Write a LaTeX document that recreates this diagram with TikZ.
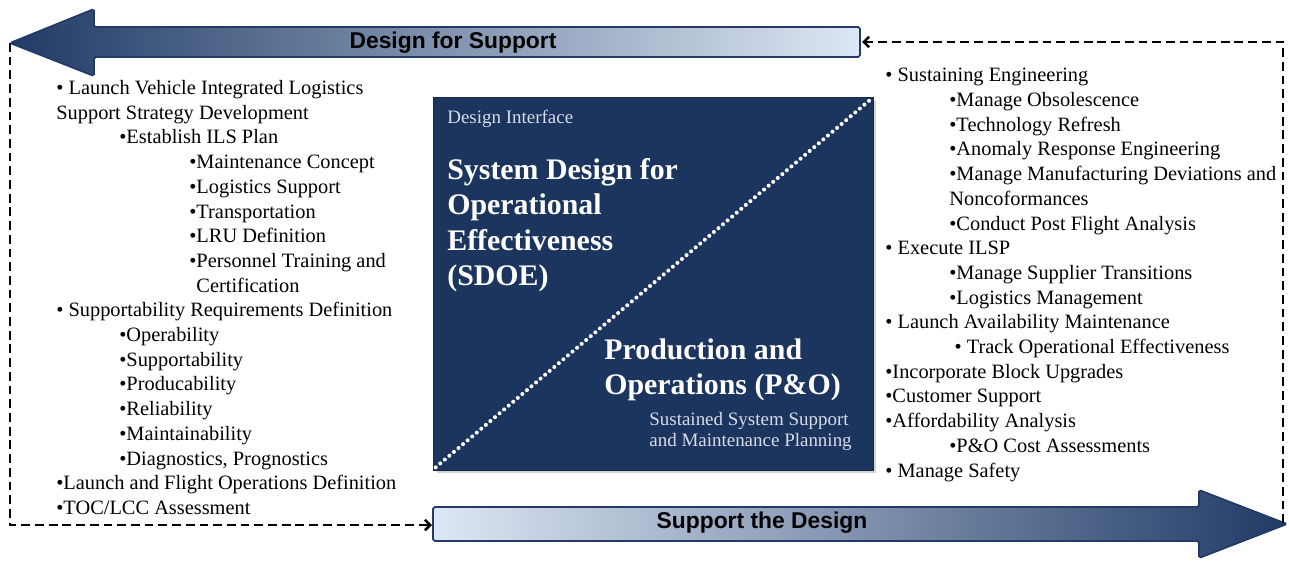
\documentclass[tikz,border=0pt]{standalone}
\usepackage{fontspec}
\setmainfont{Liberation Serif}
\setsansfont{Liberation Sans}
\usetikzlibrary{arrows.meta,shadows}

\definecolor{navy}{HTML}{1C355E}
\definecolor{arrowdark}{HTML}{213B66}
\definecolor{arrowmid}{HTML}{8FA5C7}
\definecolor{arrowlight}{HTML}{DDE7F5}
\definecolor{faint}{HTML}{D6DCE6}

\newcommand{\lvlone}{\hspace*{1.26cm}}
\newcommand{\lvltwo}{\hspace*{2.66cm}}
\newcommand{\lvlsub}{\hspace*{1.28cm}}

\begin{document}
\begin{tikzpicture}[
    x=0.02cm, y=-0.02cm,
    arrowline/.style={
        draw=arrowdark,
        line width=1pt,
        rounded corners=1pt,
    },
    arrowtext/.style={
        font=\sffamily\bfseries\fontsize{13}{15}\selectfont,
        text=black,
    },
    listnode/.style={
        anchor=north west,
        align=left,
        inner sep=0pt,
        font=\fontsize{11.6}{14.06}\selectfont,
    },
    sdbox/.style={
        rectangle,
        fill=navy,
        draw=navy!80!black,
        minimum width=8.8cm,
        minimum height=7.46cm,
        drop shadow={opacity=0.35, shadow xshift=2pt, shadow yshift=-2pt},
    },
    title/.style={
        anchor=north west,
        align=left,
        inner sep=0pt,
        text=white,
        font=\bfseries\fontsize{17}{20.2}\selectfont,
    },
    small/.style={
        anchor=north west,
        align=left,
        inner sep=0pt,
        text=faint,
        font=\fontsize{10.8}{11.9}\selectfont,
    },
    dashline/.style={
        draw=black,
        line width=1.5pt,
        dash pattern=on 5pt off 2.8pt,
        -{Straight Barb[length=3pt,width=6pt]},
    },
]
\useasboundingbox (0,0) rectangle (1289,561);

% top arrow: Design for Support
\coordinate (dfstip) at (10,43);
\coordinate (dfsend) at (862,42);
\path[arrowline, left color=arrowdark, middle color=arrowmid, right color=arrowlight]
    (dfstip) -- (94,9) -- (94,27) -- (860,27) -- (860,57) -- (94,57) -- (94,76) -- cycle;
\node[arrowtext] (dfs) at (453,43) {Design for Support};

% bottom arrow: Support the Design
\coordinate (sdstart) at (432,525);
\coordinate (sdtip) at (1283,523);
\path[arrowline, left color=arrowlight, middle color=arrowmid, right color=arrowdark]
    (433,507) -- (1199,507) -- (1199,490) -- (1287,524) -- (1199,558) -- (1199,541) -- (433,541) -- cycle;
\node[arrowtext] (std) at (762,523) {Support the Design};

% feedback loops
\draw[dashline] (dfstip) |- (sdstart);
\draw[dashline] (sdtip) |- (dfsend);

% centre box
\node[sdbox] (sdoe) at (653,283.5) {};
\draw[white, line width=2.3pt, line cap=round, dash pattern=on 0pt off 3.4pt]
    ([shift={(3,-3)}]sdoe.south west) -- ([shift={(-3,3)}]sdoe.north east);

\node[small] (di) at (447,110) {Design Interface};
\node[title] (sdoetitle) at (447,158) {System Design for\\Operational\\Effectiveness\\(SDOE)};
\node[title] (potitle) at (604,338) {Production and\\Operations (P\&O)};
\node[small] (posub) at (649,412) {Sustained System Support\\and Maintenance Planning};

% left list
\node[listnode] (leftlist) at (56,80) {%
• Launch Vehicle Integrated Logistics\\
Support Strategy Development\\
\lvlone•Establish ILS Plan\\
\lvltwo•Maintenance Concept\\
\lvltwo•Logistics Support\\
\lvltwo•Transportation\\
\lvltwo•LRU Definition\\
\lvltwo•Personnel Training and\\
\lvltwo\phantom{•}Certification\\
• Supportability Requirements Definition\\
\lvlone•Operability\\
\lvlone•Supportability\\
\lvlone•Producability\\
\lvlone•Reliability\\
\lvlone•Maintainability\\
\lvlone•Diagnostics, Prognostics\\
•Launch and Flight Operations Definition\\
•TOC/LCC Assessment};

% right list
\node[listnode] (rightlist) at (885,68) {%
• Sustaining Engineering\\
\lvlsub•Manage Obsolescence\\
\lvlsub•Technology Refresh\\
\lvlsub•Anomaly Response Engineering\\
\lvlsub•Manage Manufacturing Deviations and\\
\lvlsub Noncoformances\\
\lvlsub•Conduct Post Flight Analysis\\
• Execute ILSP\\
\lvlsub•Manage Supplier Transitions\\
\lvlsub•Logistics Management\\
• Launch Availability Maintenance\\
\lvlsub\hspace*{3pt}• Track Operational Effectiveness\\
•Incorporate Block Upgrades\\
•Customer Support\\
•Affordability Analysis\\
\lvlsub•P\&O Cost Assessments\\
• Manage Safety};

\end{tikzpicture}
\end{document}
